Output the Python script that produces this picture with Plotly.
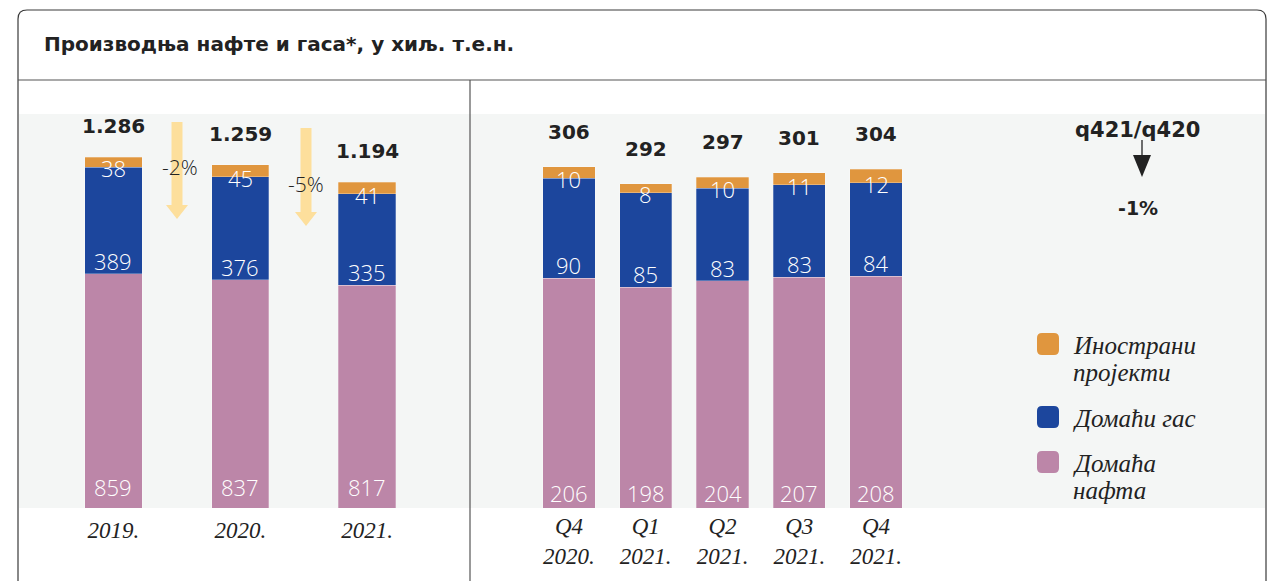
import plotly.graph_objects as go

# ---------------- data ----------------
years = ["2019.", "2020.", "2021."]
year_oil = [859, 837, 817]
year_gas = [389, 376, 335]
year_foreign = [38, 45, 41]
year_total = [1286, 1259, 1194]
year_change = ["-2%", "-5%"]

quarters = ["Q4<br>2020.", "Q1<br>2021.", "Q2<br>2021.", "Q3<br>2021.", "Q4<br>2021."]
q_oil = [206, 198, 204, 207, 208]
q_gas = [90, 85, 83, 83, 84]
q_foreign = [10, 8, 10, 11, 12]
q_total = [306, 292, 297, 301, 304]
q_change_label = "q421/q420"
q_change = "-1%"

series_names = ["Инострани<br>пројекти", "Домаћи гас", "Домаћа<br>нафта"]
title = "Производња нафте и гаса*, у хиљ. т.е.н."

# ---------------- style ----------------
OFF = 8                      # page body margin
W, H = 1282 - OFF, 581 - OFF
C_OIL = "#BC86A8"
C_GAS = "#1C469D"
C_FOR = "#E0963E"
C_BG = "#F4F6F5"
C_ARROW = "#FDDF9C"
DARK = "#222222"
SANS_B = "DejaVu Sans"
SANS_L = "Open Sans"
SERIF = "Liberation Serif"


def X(px):
    return (px - OFF) / W


def Y(py):
    return 1 - (py - OFF) / H


def fmt_thousands(v):
    return f"{v:,}".replace(",", ".")


fig = go.Figure()

ids = list(range(len(years)))
qids = list(range(len(quarters)))
edge = dict(width=0.6, color="rgba(255,255,255,0.45)")

for vals, col in [(year_oil, C_OIL), (year_gas, C_GAS), (year_foreign, C_FOR)]:
    fig.add_trace(go.Bar(x=ids, y=vals, marker=dict(color=col, line=edge),
                         width=0.45, xaxis="x", yaxis="y", showlegend=False, hoverinfo="skip"))
for vals, col in [(q_oil, C_OIL), (q_gas, C_GAS), (q_foreign, C_FOR)]:
    fig.add_trace(go.Bar(x=qids, y=vals, marker=dict(color=col, line=edge),
                         width=0.68, xaxis="x2", yaxis="y2", showlegend=False, hoverinfo="skip"))

annotations = []
shapes = []

white_font = dict(family=SANS_L, size=22, color="white", weight=300)
total_font = dict(family=SANS_B, size=20, color=DARK, weight="bold")


def seg_labels(xs, oil, gas, foreign, total, xr, yr, pink_shift, total_shift, sep):
    for i in range(len(xs)):
        annotations.append(dict(x=xs[i], y=0, xref=xr, yref=yr, text=str(oil[i]), showarrow=False,
                                xanchor="center", yanchor="middle", yshift=pink_shift, font=white_font))
        annotations.append(dict(x=xs[i], y=oil[i], xref=xr, yref=yr, text=str(gas[i]), showarrow=False,
                                xanchor="center", yanchor="middle", yshift=13, font=white_font))
        annotations.append(dict(x=xs[i], y=oil[i] + gas[i], xref=xr, yref=yr, text=str(foreign[i]),
                                showarrow=False, xanchor="center", yanchor="middle", yshift=-1,
                                font=white_font))
        top = oil[i] + gas[i] + foreign[i]
        annotations.append(dict(x=xs[i], y=top, xref=xr, yref=yr,
                                text=fmt_thousands(total[i]) if sep else str(total[i]),
                                showarrow=False, xanchor="center", yanchor="middle", yshift=total_shift,
                                font=total_font))


seg_labels(ids, year_oil, year_gas, year_foreign, year_total, "x", "y", 21, 31, True)
seg_labels(qids, q_oil, q_gas, q_foreign, q_total, "x2", "y2", 15, 35, False)

# change arrows between annual bars
arrow_px = [(177, 122, 219), (306, 128, 226)]
for (cx, y0, y1) in arrow_px:
    sw, hw, hh = 5.5, 11, 14
    path = (f"M {X(cx - sw)} {Y(y0)} L {X(cx + sw)} {Y(y0)} L {X(cx + sw)} {Y(y1 - hh)} "
            f"L {X(cx + hw)} {Y(y1 - hh)} L {X(cx)} {Y(y1)} L {X(cx - hw)} {Y(y1 - hh)} "
            f"L {X(cx - sw)} {Y(y1 - hh)} Z")
    shapes.append(dict(type="path", path=path, xref="paper", yref="paper", fillcolor=C_ARROW,
                       line=dict(width=0), layer="below"))
for (cx, cy), lab in zip([(180, 167), (306, 184)], year_change):
    annotations.append(dict(x=X(cx), y=Y(cy), xref="paper", yref="paper", text=lab, showarrow=False,
                            xanchor="center", yanchor="middle",
                            font=dict(family=SANS_L, size=21, color=DARK, weight=300)))

# quarterly change
annotations.append(dict(x=X(1137), y=Y(130), xref="paper", yref="paper", text=q_change_label, showarrow=False,
                        xanchor="center", yanchor="middle",
                        font=dict(family=SANS_B, size=21, color=DARK, weight="bold")))
annotations.append(dict(x=X(1138), y=Y(208), xref="paper", yref="paper", text=q_change, showarrow=False,
                        xanchor="center", yanchor="middle",
                        font=dict(family=SANS_B, size=19, color=DARK, weight="bold")))
shapes.append(dict(type="line", x0=X(1142), x1=X(1142), y0=Y(140), y1=Y(158), xref="paper", yref="paper",
                   line=dict(color=DARK, width=1.3)))
shapes.append(dict(type="path", path=f"M {X(1133)} {Y(155)} L {X(1151)} {Y(155)} L {X(1142)} {Y(177)} Z",
                   xref="paper", yref="paper", fillcolor=DARK, line=dict(width=0)))


def rrect(x0, y0, x1, y1, r):
    return (f"M {X(x0 + r)} {Y(y0)} L {X(x1 - r)} {Y(y0)} Q {X(x1)} {Y(y0)} {X(x1)} {Y(y0 + r)} "
            f"L {X(x1)} {Y(y1 - r)} Q {X(x1)} {Y(y1)} {X(x1 - r)} {Y(y1)} "
            f"L {X(x0 + r)} {Y(y1)} Q {X(x0)} {Y(y1)} {X(x0)} {Y(y1 - r)} "
            f"L {X(x0)} {Y(y0 + r)} Q {X(x0)} {Y(y0)} {X(x0 + r)} {Y(y0)} Z")


# legend
leg_y = [344, 417, 462]
LINE_GAP = 27
for name, col, ly in zip(series_names, [C_FOR, C_GAS, C_OIL], leg_y):
    shapes.append(dict(type="path", path=rrect(1037, ly - 11, 1059, ly + 11, 5), xref="paper", yref="paper",
                       fillcolor=col, line=dict(width=0)))
    for k, line in enumerate(name.split("<br>")):
        annotations.append(dict(x=X(1071), y=Y(ly + 1 + k * LINE_GAP), xref="paper", yref="paper", text=line,
                                showarrow=False, xanchor="left", yanchor="middle", align="left",
                                font=dict(family=SERIF, size=25, color=DARK, style="italic")))

# title
annotations.append(dict(x=X(42), y=Y(44), xref="paper", yref="paper", text=title, showarrow=False,
                        xanchor="left", yanchor="middle",
                        font=dict(family=SANS_B, size=20, color=DARK, weight="bold")))

# frame, dividers, background
shapes.insert(0, dict(type="rect", x0=X(19), x1=X(1265), y0=Y(508), y1=Y(114), xref="paper", yref="paper",
                      fillcolor=C_BG, line=dict(width=0), layer="below"))
r = 9
frame = (f"M {X(18)} {Y(600)} L {X(18)} {Y(10 + r)} Q {X(18)} {Y(10)} {X(18 + r)} {Y(10)} "
         f"L {X(1266 - r)} {Y(10)} Q {X(1266)} {Y(10)} {X(1266)} {Y(10 + r)} L {X(1266)} {Y(600)}")
shapes.append(dict(type="path", path=frame, xref="paper", yref="paper", line=dict(color="#3a3a3a", width=1.2)))
shapes.append(dict(type="line", x0=X(18), x1=X(1266), y0=Y(80), y1=Y(80), xref="paper", yref="paper",
                   line=dict(color="#555555", width=1.2)))
shapes.append(dict(type="line", x0=X(470), x1=X(470), y0=Y(80), y1=Y(600), xref="paper", yref="paper",
                   line=dict(color="#555555", width=1.2)))

tickfont = dict(family=SERIF, size=23, color=DARK, style="italic")
ydom = [Y(508), Y(114)]
fig.update_layout(
    width=W, height=H, margin=dict(l=0, r=0, t=0, b=0),
    paper_bgcolor="white", plot_bgcolor="rgba(0,0,0,0)",
    barmode="stack", showlegend=False,
    xaxis=dict(domain=[X(50.1), X(430.4)], range=[-0.5, 2.5], tickvals=ids, ticktext=years,
               showgrid=False, zeroline=False, showline=False, ticks="", tickfont=tickfont,
               ticklabelstandoff=6, fixedrange=True),
    yaxis=dict(domain=ydom, range=[0, 394 / 0.2729], visible=False, fixedrange=True),
    xaxis2=dict(domain=[X(530.6), X(914.4)], range=[-0.5, 4.5], tickvals=qids, ticktext=quarters,
                showgrid=False, zeroline=False, showline=False, ticks="", tickfont=tickfont,
                ticklabelstandoff=2, anchor="y2", fixedrange=True),
    yaxis2=dict(domain=ydom, range=[0, 394 / 1.1144], visible=False, anchor="x2", fixedrange=True),
    annotations=annotations, shapes=shapes,
)

fig.write_html("out.html")
